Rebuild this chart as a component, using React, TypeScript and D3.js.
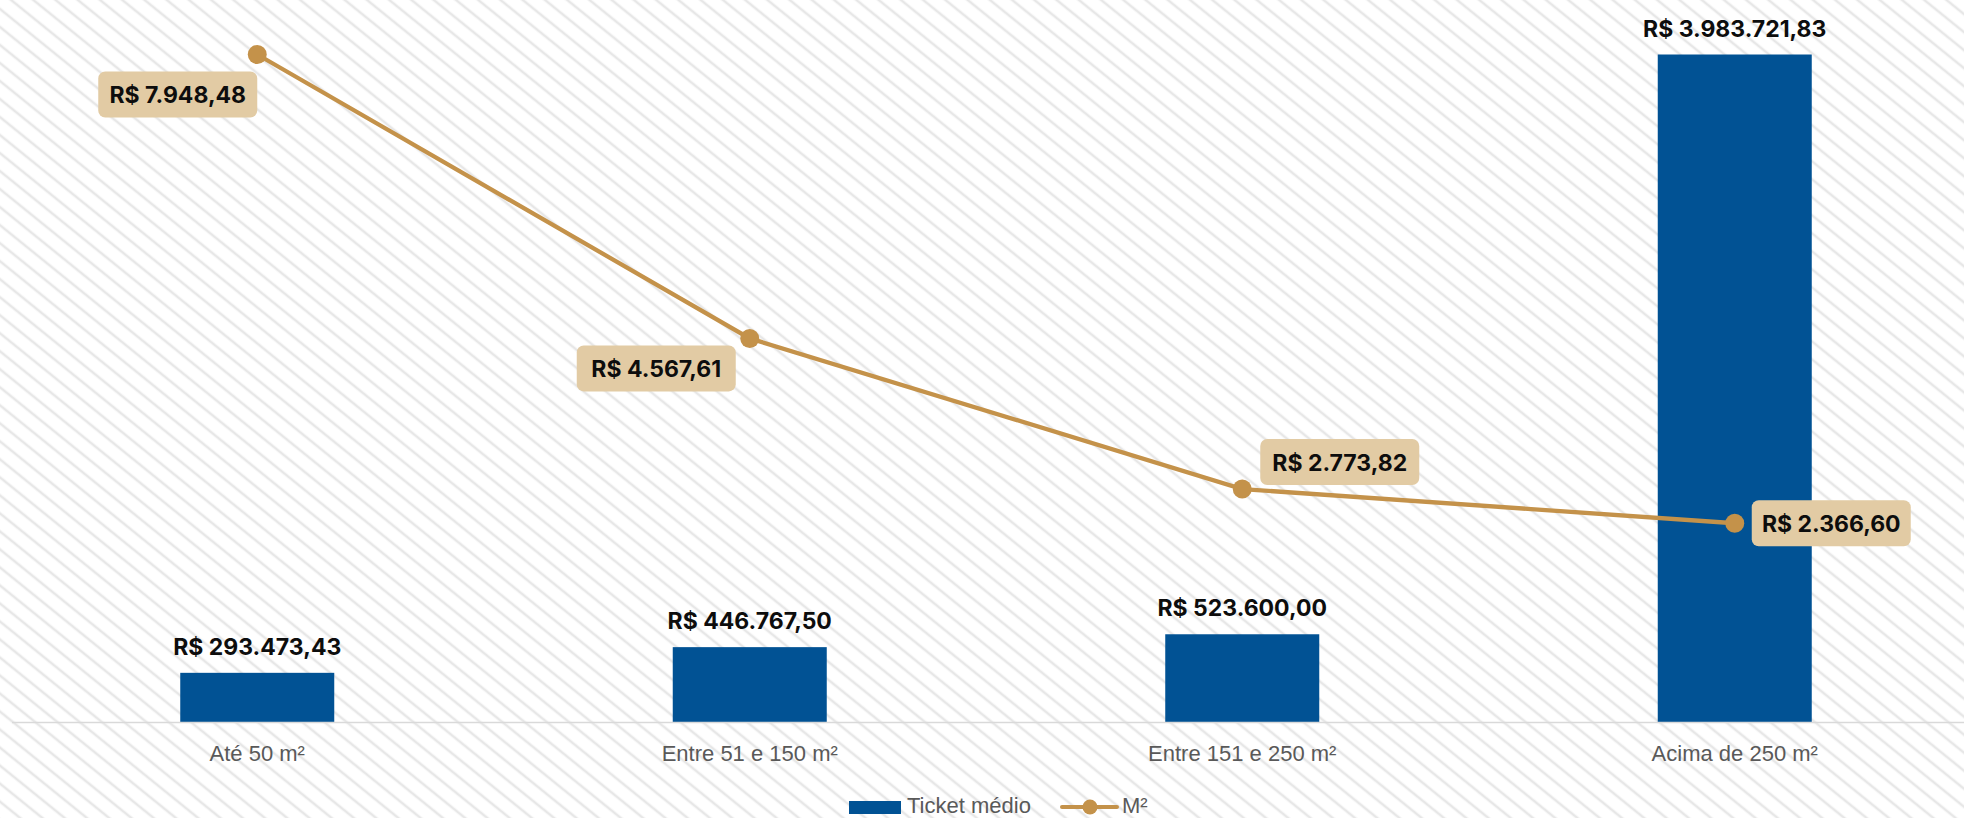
import React from 'react';
import * as d3 from 'd3';

const categories = ['Até 50 m²', 'Entre 51 e 150 m²', 'Entre 151 e 250 m²', 'Acima de 250 m²'];
const ticketMedio = [293473.43, 446767.5, 523600.0, 3983721.83];
const precoM2 = [7948.48, 4567.61, 2773.82, 2366.6];
const legendLabels = ['Ticket médio', 'M²'];

// where each line label box sits, relative to its point (box top-left)
const lineLabelOffsets = [
  [-159, 17],
  [-173, 7],
  [18, -50],
  [17, -23],
];

const W = 1964;
const H = 818;
const BASE = 722;
const TOP = 54.5;
const BAR_W = 154;
const BOX_W = 159;
const BOX_H = 46;

const BLUE = '#015294';
const GOLD = '#C4924A';
const BOX = '#E2CBA4';
const GREY_TEXT = '#595959';

const brl = (v: number) =>
  'R$ ' +
  v
    .toFixed(2)
    .replace('.', ',')
    .replace(/\B(?=(\d{3})+(?!\d))/g, '.');

export default function App() {
  const x = d3.scaleBand<string>().domain(categories).range([11, 1981]).padding(0);
  const yBar = d3.scaleLinear().domain([0, d3.max(ticketMedio) as number]).range([BASE, TOP]);
  const yLine = d3.scaleLinear().domain([0, d3.max(precoM2) as number]).range([BASE, TOP]);
  const cx = (c: string) => (x(c) as number) + x.bandwidth() / 2;

  const line = d3
    .line<number>()
    .x((_, i) => cx(categories[i]))
    .y((d) => yLine(d));

  return (
    <svg
      width={W}
      height={H}
      style={{ position: 'absolute', left: 0, top: 0, fontFamily: '"Liberation Sans", Arial, sans-serif' }}
    >
      <defs>
        <pattern id="hatch" patternUnits="userSpaceOnUse" width={14} height={14} patternTransform="rotate(39)">
          <line x1={0} y1={7} x2={14} y2={7} stroke="#e7e7e7" strokeWidth={2.6} />
        </pattern>
      </defs>
      <rect width={W} height={H} fill="#fff" />
      <rect width={W} height={H} fill="url(#hatch)" />

      {/* bars */}
      {ticketMedio.map((v, i) => {
        const c = cx(categories[i]);
        return (
          <g key={'b' + i}>
            <rect x={c - BAR_W / 2} y={yBar(v)} width={BAR_W} height={BASE - yBar(v)} fill={BLUE} />
            <text
              x={c}
              y={yBar(v) - 18}
              textAnchor="middle"
              fontFamily="Inter, sans-serif"
              fontWeight={700}
              fontSize={23}
              fill="#0d0d0d"
            >
              {brl(v)}
            </text>
          </g>
        );
      })}

      {/* axis */}
      <line x1={12} x2={W} y1={BASE + 0.5} y2={BASE + 0.5} stroke="#d9d9d9" strokeWidth={1.5} />
      {categories.map((c) => (
        <text key={c} x={cx(c)} y={761} textAnchor="middle" fontSize={22} fill={GREY_TEXT}>
          {c}
        </text>
      ))}

      {/* line series */}
      <path d={line(precoM2) as string} fill="none" stroke={GOLD} strokeWidth={4.3} />
      {precoM2.map((v, i) => (
        <circle key={'p' + i} cx={cx(categories[i])} cy={yLine(v)} r={9.5} fill={GOLD} />
      ))}
      {precoM2.map((v, i) => {
        const px = cx(categories[i]) + lineLabelOffsets[i][0];
        const py = yLine(v) + lineLabelOffsets[i][1];
        return (
          <g key={'l' + i}>
            <rect x={px} y={py} width={BOX_W} height={BOX_H} rx={7} fill={BOX} />
            <text
              x={px + BOX_W / 2}
              y={py + BOX_H / 2 + 8.5}
              textAnchor="middle"
              fontFamily="Inter, sans-serif"
              fontWeight={700}
              fontSize={23}
              fill="#0d0d0d"
            >
              {brl(v)}
            </text>
          </g>
        );
      })}

      {/* legend */}
      <rect x={849} y={801} width={52} height={13} fill={BLUE} />
      <text x={907} y={813} fontSize={22} fill={GREY_TEXT}>
        {legendLabels[0]}
      </text>
      <line x1={1062} x2={1117} y1={807} y2={807} stroke={GOLD} strokeWidth={4} strokeLinecap="round" />
      <circle cx={1090} cy={807} r={7.5} fill={GOLD} />
      <text x={1122} y={813} fontSize={22} fill={GREY_TEXT}>
        {legendLabels[1]}
      </text>
    </svg>
  );
}
